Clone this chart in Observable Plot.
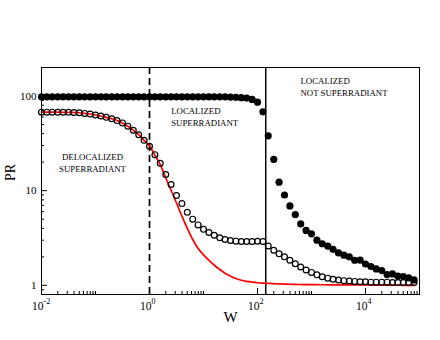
<!DOCTYPE html>
<html>
<head>
<meta charset="utf-8">
<script src="https://cdn.jsdelivr.net/npm/d3@7"></script>
<script src="https://cdn.jsdelivr.net/npm/@observablehq/plot@0.6"></script>
<style>
  html, body { margin: 0; padding: 0; background: #fff; }
  #chart svg { display: block; }
</style>
</head>
<body>
<div id="chart"></div>
<script>
// Disorder strength W (sampled grid)
const W = [0.01, 0.0126, 0.0158, 0.02, 0.0251, 0.0316, 0.0398, 0.0501, 0.0631, 0.0794,
  0.1, 0.126, 0.158, 0.2, 0.251, 0.316, 0.398, 0.501, 0.631, 0.794,
  1, 1.26, 1.58, 2, 2.51, 3.16, 3.98, 5.01, 6.31, 7.94,
  10, 12.6, 15.8, 20, 25.1, 31.6, 39.8, 50.1, 63.1, 79.4,
  100, 126, 158, 200, 251, 316, 398, 501, 631, 794,
  1000, 1260, 1580, 2000, 2510, 3160, 3980, 5010, 6310, 7940,
  10000, 12600, 15800, 20000, 25100, 31600, 39800, 50100, 63100, 79400];

// Filled circles
const prFilled = [98, 98, 98, 98, 98, 98, 98, 98, 98, 98,
  98, 98, 98, 98, 98, 98, 98, 98, 98, 98,
  98, 98, 98, 98, 98, 98, 98, 98, 98, 98,
  98, 98, 98, 98, 98, 97.5, 97, 96, 95, 92,
  86, 68, 38, 21.4, 12.3, 9.0, 6.9, 5.6, 4.45, 3.8,
  3.5, 3.0, 2.75, 2.6, 2.4, 2.2, 2.08, 2.0, 1.84, 1.85,
  1.68, 1.58, 1.49, 1.43, 1.3, 1.32, 1.25, 1.24, 1.2, 1.14];

// Open circles
const prOpen = [67.5, 67.5, 67.5, 67.4, 67.3, 67.2, 67, 66.5, 65.5, 64.5,
  63, 61.5, 59.5, 57.5, 55, 52, 48, 43.5, 39, 34,
  29.5, 24, 19.5, 14.8, 11.6, 8.9, 7.3, 5.9, 5.0, 4.35,
  3.9, 3.62, 3.38, 3.18, 3.05, 2.98, 2.93, 2.9, 2.9, 2.9,
  2.92, 2.9, 2.6, 2.35, 2.15, 2.0, 1.84, 1.69, 1.56, 1.45,
  1.37, 1.29, 1.23, 1.19, 1.16, 1.14, 1.12, 1.11, 1.1, 1.09,
  1.09, 1.08, 1.08, 1.08, 1.08, 1.07, 1.07, 1.07, 1.07, 1.07];

// Red curve
const prRed = [67.5, 67.5, 67.5, 67.4, 67.3, 67.2, 67, 66.5, 65.5, 64.5,
  63, 61.5, 59.5, 57.5, 55, 52, 48, 43.5, 39, 34,
  29.8, 23.6, 19.0, 13.6, 10.1, 7.4, 5.4, 4.0, 3.05, 2.45,
  2.1, 1.84, 1.63, 1.47, 1.34, 1.25, 1.18, 1.13, 1.1, 1.08,
  1.065, 1.055, 1.047, 1.04, 1.035, 1.03, 1.026, 1.022, 1.02, 1.018,
  1.016, 1.015, 1.014, 1.013, 1.012, 1.011, 1.01, 1.01, 1.01, 1.01,
  1.008, 1.007, 1.006, 1.005, 1.004, 1.003, 1.002, 1.001, 1.0, 1.0];

const xMajorTicks = [0.01, 1, 100, 10000];
const xTickBase = ["10", "10", "10", "10"];
const xTickExponents = ["-2", "0", "2", "4"];
const yMajorTicks = [1, 10, 100];
const yTickLabels = ["1", "10", "100"];
const regionLabels = ["DELOCALIZED\nSUPERRADIANT", "LOCALIZED\nSUPERRADIANT", "LOCALIZED\nNOT SUPERRADIANT"];
const dashedBoundary = [1];
const solidBoundary = [142];
const xLabel = "W";
const yLabel = "PR";

const xMinorTicks = xMajorTicks.flatMap(m => [2,3,4,5,6,7,8,9,10].map(f => m * f)).filter(v => v < 1e5);
const yMinorTicks = [0.1, 1, 10].flatMap(m => [2,3,4,5,6,7,8,9].map(f => m * f)).filter(v => v > 0.8 && v < 200);

const rows = W.map((w, i) => ({W: w, filled: prFilled[i], open: prOpen[i], red: prRed[i]}));
const xTicks = xMajorTicks.map((v, i) => ({v, base: xTickBase[i], exp: xTickExponents[i]}));
const yTicks = yMajorTicks.map((v, i) => ({v, label: yTickLabels[i]}));
const centeredRegions = [{x: 0.088, y: 20.2, text: regionLabels[0]}];
const leftRegions = [
  {x: 2.52, y: 60.8, text: regionLabels[1]},
  {x: 625, y: 126, text: regionLabels[2]}
];

const serif = "'Liberation Serif', 'Times New Roman', serif";

const chart = Plot.plot({
  width: 440,
  height: 340,
  marginLeft: 41,
  marginRight: 21,
  marginTop: 67,
  marginBottom: 46,
  style: {fontFamily: serif, background: "#fff", color: "black"},
  x: {type: "log", domain: [0.01, 1e5], axis: null},
  y: {type: "log", domain: [0.8, 200], axis: null},
  marks: [
    Plot.ruleX(dashedBoundary, {x: d => d, stroke: "black", strokeWidth: 1.7, strokeDasharray: "7,4"}),
    Plot.ruleX(solidBoundary, {x: d => d, stroke: "black", strokeWidth: 1.5}),
    Plot.line(rows, {x: "W", y: "red", stroke: "#ff0000", strokeWidth: 1.7, curve: "monotone-x"}),
    Plot.dot(rows, {x: "W", y: "open", r: 2.9, stroke: "black", strokeWidth: 1.2, fill: "none"}),
    Plot.dot(rows, {x: "W", y: "filled", r: 3.6, fill: "black", stroke: "none"}),
    Plot.axisX(xMajorTicks, {anchor: "bottom", tickSize: -6, tickFormat: () => "", label: null, stroke: "black"}),
    Plot.axisX(xMinorTicks, {anchor: "bottom", tickSize: -3, tickFormat: () => "", label: null, stroke: "black"}),
    Plot.axisY(yMajorTicks, {anchor: "left", tickSize: -6, tickFormat: () => "", label: null, stroke: "black"}),
    Plot.axisY(yMinorTicks, {anchor: "left", tickSize: -3, tickFormat: () => "", label: null, stroke: "black"}),
    Plot.frame({stroke: "black", strokeWidth: 1}),
    Plot.text(xTicks, {x: "v", text: "base", frameAnchor: "bottom", textAnchor: "end", dx: 2, dy: 15, fontSize: 11.5, fill: "black"}),
    Plot.text(xTicks, {x: "v", text: "exp", frameAnchor: "bottom", textAnchor: "start", dx: 2, dy: 9, fontSize: 8, fill: "black"}),
    Plot.text(yTicks, {y: "v", text: "label", frameAnchor: "left", textAnchor: "end", dx: -5, fontSize: 11, fill: "black"}),
    Plot.text([xLabel], {frameAnchor: "bottom", dy: 27.5, fontSize: 15, fill: "black"}),
    Plot.text([yLabel], {frameAnchor: "left", dx: -31, rotate: -90, fontSize: 14, fill: "black"}),
    Plot.text(centeredRegions, {x: "x", y: "y", text: "text", textAnchor: "middle", fontSize: 8.8, lineHeight: 1.36, fill: "black"}),
    Plot.text(leftRegions, {x: "x", y: "y", text: "text", textAnchor: "start", fontSize: 8.8, lineHeight: 1.36, fill: "black"})
  ]
});
document.getElementById("chart").appendChild(chart);
</script>
</body>
</html>
